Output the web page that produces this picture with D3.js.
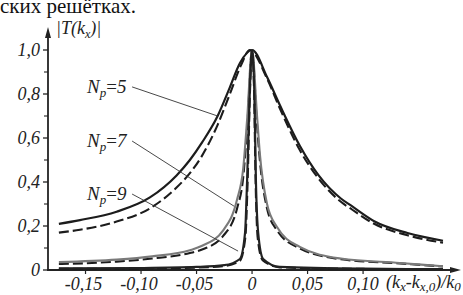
<!DOCTYPE html>
<html>
<head>
<meta charset="utf-8">
<script src="https://cdn.jsdelivr.net/npm/d3@7"></script>
</head>
<body style="margin:0">
<div id="plot"></div>
<script>
// values: x = (kx - kx0)/k0, y = |T(kx)|
const n5Solid = [
  [-0.174, 0.21], [-0.155, 0.227], [-0.122, 0.265], [-0.092, 0.33], [-0.068, 0.43],
  [-0.056, 0.5], [-0.045, 0.58], [-0.031, 0.7], [-0.02, 0.83], [-0.011, 0.94], [0, 1.0],
  [0.0135, 0.877], [0.025, 0.75], [0.043, 0.565], [0.06, 0.43], [0.08, 0.325],
  [0.09, 0.29], [0.11, 0.222], [0.14, 0.168], [0.172, 0.133]
];
const n5Dash = [
  [-0.174, 0.17], [-0.155, 0.183], [-0.122, 0.22], [-0.092, 0.28], [-0.068, 0.375],
  [-0.056, 0.44], [-0.045, 0.52], [-0.031, 0.66], [-0.02, 0.8], [-0.01, 0.93], [-0.002, 1.0],
  [0.0135, 0.87], [0.025, 0.735], [0.043, 0.545], [0.06, 0.415], [0.08, 0.31],
  [0.09, 0.275], [0.11, 0.21], [0.14, 0.158], [0.172, 0.124]
];
const n7Solid = [
  [-0.174, 0.036], [-0.122, 0.047], [-0.09, 0.062], [-0.056, 0.09], [-0.045, 0.11],
  [-0.026, 0.18], [-0.0135, 0.32], [-0.008, 0.46], [-0.0045, 0.68], [0, 1.0],
  [0.0045, 0.7], [0.007, 0.53], [0.0135, 0.3], [0.0225, 0.195], [0.043, 0.105],
  [0.08, 0.052], [0.133, 0.032], [0.172, 0.017]
];
const n7Dash = [
  [-0.174, 0.027], [-0.122, 0.038], [-0.09, 0.052], [-0.056, 0.077], [-0.045, 0.093],
  [-0.026, 0.155], [-0.0135, 0.28], [-0.008, 0.42], [-0.004, 0.68], [0, 1.0],
  [0.0042, 0.68], [0.007, 0.5], [0.0135, 0.28], [0.0225, 0.18], [0.043, 0.098],
  [0.08, 0.049], [0.133, 0.03], [0.172, 0.016]
];
const n9Solid = [
  [-0.174, 0.007], [-0.1, 0.009], [-0.05, 0.014], [-0.025, 0.022], [-0.011, 0.05],
  [-0.0063, 0.17], [-0.0045, 0.4], [-0.002, 0.82], [0, 1.0], [0.002, 0.82],
  [0.0035, 0.4], [0.0055, 0.17], [0.01, 0.05], [0.025, 0.014], [0.1, 0.006], [0.172, 0.004]
];
const n9Dash = [
  [-0.174, 0.005], [-0.1, 0.007], [-0.05, 0.011], [-0.025, 0.018], [-0.011, 0.042],
  [-0.006, 0.15], [-0.004, 0.4], [-0.0018, 0.82], [0, 1.0], [0.0018, 0.82],
  [0.0032, 0.4], [0.005, 0.15], [0.0095, 0.045], [0.025, 0.012], [0.1, 0.005], [0.172, 0.003]
];

const yTicks = [0, 0.2, 0.4, 0.6, 0.8, 1.0];
const yTickLabels = ["0", "0,2", "0,4", "0,6", "0,8", "1,0"];
const yMinorTicks = [0.1, 0.3, 0.5, 0.7, 0.9];
const xTicks = [-0.15, -0.10, -0.05, 0, 0.05, 0.10];
const xTickLabels = ["-0,15", "-0,10", "-0,05", "0", "0,05", "0,10"];

// N_p labels: label anchor and end of leader line, in data units
const notes = [
  { n: "5", lx: -0.1486, ly: 0.805, ex: -0.031, ey: 0.7 },
  { n: "7", lx: -0.1486, ly: 0.559, ex: -0.0162, ey: 0.29 },
  { n: "9", lx: -0.1486, ly: 0.318, ex: -0.0126, ey: 0.086 }
];

const width = 463, height = 295;
const svg = d3.select("#plot").append("svg")
  .attr("width", width).attr("height", height);

const x = d3.scaleLinear().domain([-0.1838, 0.1846]).range([48, 457]);
const y = d3.scaleLinear().domain([0, 1]).range([270, 50]);

// every text in Times-like serif
function txt(sel) {
  return sel.attr("font-family", "Liberation Serif")
    .style("font-family", "'Liberation Serif', 'Times New Roman', serif");
}

// caption fragment at the top, cut by the page edge
txt(svg.append("text")).attr("x", 0).attr("y", 13)
  .attr("font-size", 21).attr("fill", "#111")
  .text("ских решётках.");

// axes
const ax = svg.append("g").attr("stroke", "#222").attr("fill", "none");
ax.append("line").attr("x1", 48).attr("x2", 48).attr("y1", 270).attr("y2", 32)
  .attr("stroke-width", 1.8);
ax.append("line").attr("x1", 47).attr("x2", 454).attr("y1", 270).attr("y2", 270)
  .attr("stroke-width", 2);
svg.append("path").attr("d", "M48,27 L45,38 L51,38 Z").attr("fill", "#222");
svg.append("path").attr("d", "M461,270 L450,267 L450,273 Z").attr("fill", "#222");

ax.selectAll(".yt").data(yTicks).join("line")
  .attr("x1", 43).attr("x2", 48).attr("y1", d => y(d)).attr("y2", d => y(d))
  .attr("stroke-width", 1.3);
ax.selectAll(".ym").data(yMinorTicks).join("line")
  .attr("x1", 44).attr("x2", 48).attr("y1", d => y(d)).attr("y2", d => y(d))
  .attr("stroke-width", 1.1);
ax.selectAll(".xt").data(xTicks).join("line")
  .attr("x1", d => x(d)).attr("x2", d => x(d)).attr("y1", 270).attr("y2", 274)
  .attr("stroke-width", 1.2);

txt(svg.append("g").selectAll("text").data(yTicks).join("text"))
  .attr("x", 40).attr("y", d => y(d) + 6)
  .attr("text-anchor", "end").attr("font-size", 18).attr("font-style", "italic")
  .attr("fill", "#222")
  .text((d, i) => yTickLabels[i]);

txt(svg.append("g").selectAll("text").data(xTicks).join("text"))
  .attr("x", d => x(d) - (d < 0 ? 2 : 0)).attr("y", 290)
  .attr("text-anchor", "middle").attr("font-size", 18).attr("font-style", "italic")
  .attr("fill", "#222")
  .text((d, i) => xTickLabels[i]);

// axis titles
const yt = txt(svg.append("text")).attr("x", 56).attr("y", 34)
  .attr("font-size", 18).attr("font-style", "italic").attr("fill", "#222");
yt.append("tspan").text("|T(k");
yt.append("tspan").attr("font-size", 12).attr("dy", 4).text("x");
yt.append("tspan").attr("dy", -4).text(")|");

const xt = txt(svg.append("text")).attr("x", 386).attr("y", 288)
  .attr("font-size", 18).attr("font-style", "italic").attr("fill", "#222");
xt.append("tspan").text("(k");
xt.append("tspan").attr("font-size", 13).attr("dy", 3).text("x");
xt.append("tspan").attr("dy", -3).text("-k");
xt.append("tspan").attr("font-size", 13).attr("dy", 3).text("x,0");
xt.append("tspan").attr("dy", -3).text(")/k");
xt.append("tspan").attr("font-size", 13).attr("dy", 3).text("0");

// curves
const line = d3.line().x(d => x(d[0])).y(d => y(d[1])).curve(d3.curveMonotoneX);
const series = [
  { data: n5Solid, color: "#1c1c1c", dash: null, w: 2.2 },
  { data: n5Dash, color: "#1c1c1c", dash: "10,4", w: 2.1 },
  { data: n7Dash, color: "#1c1c1c", dash: "10,4", w: 2.1 },
  { data: n7Solid, color: "#7a7a7a", dash: null, w: 2.1 },
  { data: n9Dash, color: "#1c1c1c", dash: "10,4", w: 2.1 },
  { data: n9Solid, color: "#222", dash: null, w: 2.2 }
];
svg.append("g").selectAll("path").data(series).join("path")
  .attr("d", d => line(d.data))
  .attr("fill", "none")
  .attr("stroke", d => d.color)
  .attr("stroke-width", d => d.w)
  .attr("stroke-dasharray", d => d.dash);

// N_p labels with leader lines
const g = svg.append("g");
g.selectAll("line").data(notes).join("line")
  .attr("x1", d => x(d.lx) + 45).attr("y1", d => y(d.ly) - 6)
  .attr("x2", d => x(d.ex)).attr("y2", d => y(d.ey))
  .attr("stroke", "#333").attr("stroke-width", 0.9);
const lt = txt(g.selectAll("text").data(notes).join("text"))
  .attr("x", d => x(d.lx)).attr("y", d => y(d.ly))
  .attr("font-size", 19).attr("font-style", "italic").attr("fill", "#222");
lt.append("tspan").text("N");
lt.append("tspan").attr("font-size", 13).attr("dy", 4).text("p");
lt.append("tspan").attr("dy", -4).attr("font-style", "normal").text("=");
lt.append("tspan").text(d => d.n);
</script>
</body>
</html>
